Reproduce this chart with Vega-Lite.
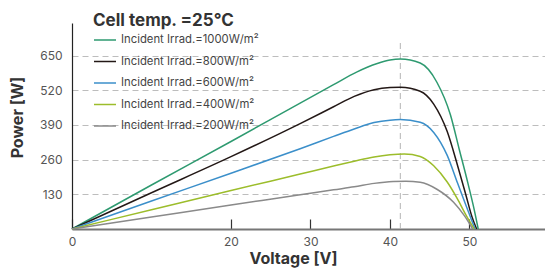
{
  "$schema": "https://vega.github.io/schema/vega-lite/v6.json",
  "width": 473,
  "height": 206,
  "autosize": {"type": "none"},
  "padding": {"left": 72, "top": 23, "right": 0, "bottom": 41},
  "background": "white",
  "config": {
    "view": {"stroke": null},
    "font": "Inter",
    "axis": {"labelFont": "Inter", "titleFont": "Inter"}
  },
  "layer": [
    {
      "data": {"values": [{"v": 41.3, "p0": 0, "p1": 699}]},
      "mark": {"type": "rule", "color": "#b5b5b5", "strokeDash": [6, 4], "strokeWidth": 1},
      "encoding": {
        "x": {"field": "v", "type": "quantitative", "scale": {"domain": [0, 59.5]}},
        "y": {"field": "p0", "type": "quantitative", "scale": {"domain": [0, 772]}},
        "y2": {"field": "p1"}
      }
    },
    {
      "data": {"values": [
        {"series": "Incident Irrad.=1000W/m²", "v": 0, "p": 0},
        {"series": "Incident Irrad.=1000W/m²", "v": 10, "p": 165},
        {"series": "Incident Irrad.=1000W/m²", "v": 20, "p": 328},
        {"series": "Incident Irrad.=1000W/m²", "v": 28.7, "p": 472},
        {"series": "Incident Irrad.=1000W/m²", "v": 32.9, "p": 541},
        {"series": "Incident Irrad.=1000W/m²", "v": 35.8, "p": 588},
        {"series": "Incident Irrad.=1000W/m²", "v": 38.4, "p": 620},
        {"series": "Incident Irrad.=1000W/m²", "v": 40.0, "p": 633},
        {"series": "Incident Irrad.=1000W/m²", "v": 41.3, "p": 637},
        {"series": "Incident Irrad.=1000W/m²", "v": 43.8, "p": 622},
        {"series": "Incident Irrad.=1000W/m²", "v": 45.9, "p": 550},
        {"series": "Incident Irrad.=1000W/m²", "v": 47.6, "p": 428},
        {"series": "Incident Irrad.=1000W/m²", "v": 48.7, "p": 300},
        {"series": "Incident Irrad.=1000W/m²", "v": 49.8, "p": 172},
        {"series": "Incident Irrad.=1000W/m²", "v": 50.6, "p": 72},
        {"series": "Incident Irrad.=1000W/m²", "v": 51.1, "p": 0},
        {"series": "Incident Irrad.=800W/m²", "v": 0, "p": 0},
        {"series": "Incident Irrad.=800W/m²", "v": 10, "p": 136},
        {"series": "Incident Irrad.=800W/m²", "v": 20, "p": 271},
        {"series": "Incident Irrad.=800W/m²", "v": 28.7, "p": 395},
        {"series": "Incident Irrad.=800W/m²", "v": 32.9, "p": 458},
        {"series": "Incident Irrad.=800W/m²", "v": 35.5, "p": 497},
        {"series": "Incident Irrad.=800W/m²", "v": 38.0, "p": 522},
        {"series": "Incident Irrad.=800W/m²", "v": 40.0, "p": 530},
        {"series": "Incident Irrad.=800W/m²", "v": 41.3, "p": 531},
        {"series": "Incident Irrad.=800W/m²", "v": 43.8, "p": 516},
        {"series": "Incident Irrad.=800W/m²", "v": 45.5, "p": 468},
        {"series": "Incident Irrad.=800W/m²", "v": 47.2, "p": 365},
        {"series": "Incident Irrad.=800W/m²", "v": 48.5, "p": 238},
        {"series": "Incident Irrad.=800W/m²", "v": 49.6, "p": 122},
        {"series": "Incident Irrad.=800W/m²", "v": 50.3, "p": 47},
        {"series": "Incident Irrad.=800W/m²", "v": 50.9, "p": 0},
        {"series": "Incident Irrad.=600W/m²", "v": 0, "p": 0},
        {"series": "Incident Irrad.=600W/m²", "v": 10, "p": 105},
        {"series": "Incident Irrad.=600W/m²", "v": 20, "p": 209},
        {"series": "Incident Irrad.=600W/m²", "v": 28.7, "p": 301},
        {"series": "Incident Irrad.=600W/m²", "v": 32.9, "p": 347},
        {"series": "Incident Irrad.=600W/m²", "v": 35.5, "p": 375},
        {"series": "Incident Irrad.=600W/m²", "v": 38.0, "p": 399},
        {"series": "Incident Irrad.=600W/m²", "v": 40.0, "p": 408},
        {"series": "Incident Irrad.=600W/m²", "v": 41.3, "p": 410},
        {"series": "Incident Irrad.=600W/m²", "v": 43.8, "p": 400},
        {"series": "Incident Irrad.=600W/m²", "v": 45.5, "p": 362},
        {"series": "Incident Irrad.=600W/m²", "v": 47.2, "p": 276},
        {"series": "Incident Irrad.=600W/m²", "v": 48.5, "p": 172},
        {"series": "Incident Irrad.=600W/m²", "v": 49.6, "p": 85},
        {"series": "Incident Irrad.=600W/m²", "v": 50.7, "p": 0},
        {"series": "Incident Irrad.=400W/m²", "v": 0, "p": 0},
        {"series": "Incident Irrad.=400W/m²", "v": 10, "p": 72},
        {"series": "Incident Irrad.=400W/m²", "v": 20, "p": 144},
        {"series": "Incident Irrad.=400W/m²", "v": 28.7, "p": 206},
        {"series": "Incident Irrad.=400W/m²", "v": 32.9, "p": 236},
        {"series": "Incident Irrad.=400W/m²", "v": 35.5, "p": 254},
        {"series": "Incident Irrad.=400W/m²", "v": 38.0, "p": 270},
        {"series": "Incident Irrad.=400W/m²", "v": 40.0, "p": 278},
        {"series": "Incident Irrad.=400W/m²", "v": 41.8, "p": 281},
        {"series": "Incident Irrad.=400W/m²", "v": 43.8, "p": 272},
        {"series": "Incident Irrad.=400W/m²", "v": 45.5, "p": 237},
        {"series": "Incident Irrad.=400W/m²", "v": 47.2, "p": 176},
        {"series": "Incident Irrad.=400W/m²", "v": 48.5, "p": 112},
        {"series": "Incident Irrad.=400W/m²", "v": 49.6, "p": 50},
        {"series": "Incident Irrad.=400W/m²", "v": 50.6, "p": 0},
        {"series": "Incident Irrad.=200W/m²", "v": 0, "p": 0},
        {"series": "Incident Irrad.=200W/m²", "v": 10, "p": 45},
        {"series": "Incident Irrad.=200W/m²", "v": 20, "p": 90},
        {"series": "Incident Irrad.=200W/m²", "v": 28.7, "p": 128},
        {"series": "Incident Irrad.=200W/m²", "v": 32.9, "p": 147},
        {"series": "Incident Irrad.=200W/m²", "v": 35.5, "p": 158},
        {"series": "Incident Irrad.=200W/m²", "v": 38.0, "p": 171},
        {"series": "Incident Irrad.=200W/m²", "v": 40.4, "p": 178},
        {"series": "Incident Irrad.=200W/m²", "v": 42.0, "p": 179},
        {"series": "Incident Irrad.=200W/m²", "v": 43.8, "p": 175},
        {"series": "Incident Irrad.=200W/m²", "v": 45.9, "p": 149},
        {"series": "Incident Irrad.=200W/m²", "v": 48.0, "p": 100},
        {"series": "Incident Irrad.=200W/m²", "v": 49.4, "p": 48},
        {"series": "Incident Irrad.=200W/m²", "v": 50.4, "p": 0}
      ]},
      "mark": {"type": "line", "interpolate": "monotone", "strokeWidth": 1.5},
      "encoding": {
        "x": {
          "field": "v", "type": "quantitative",
          "scale": {"domain": [0, 59.5], "nice": false},
          "axis": {
            "values": [0, 20, 30, 40, 50],
            "title": "Voltage [V]",
            "titleFontSize": 16, "titleFontWeight": "bold", "titleColor": "#333",
            "titleX": 221, "titleY": 21, "titleAnchor": "middle",
            "labelFontSize": 12, "labelColor": "#555", "labelPadding": 17, "labelFlush": false,
            "domainColor": "#777", "domainWidth": 2,
            "tickColor": "#333", "tickSize": -10, "tickWidth": 1.2,
            "grid": false
          }
        },
        "y": {
          "field": "p", "type": "quantitative",
          "scale": {"domain": [0, 772], "nice": false},
          "axis": {
            "values": [130, 260, 390, 520, 650],
            "title": "Power [W]",
            "titleFontSize": 16, "titleFontWeight": "bold", "titleColor": "#333",
            "titleX": -47, "titleY": 94, "titleAnchor": "middle",
            "labelFontSize": 12, "labelColor": "#555", "labelPadding": 10,
            "domainColor": "#222", "domainWidth": 1.2,
            "ticks": false,
            "grid": true, "gridColor": "#bdbdbd", "gridDash": [6, 4], "gridWidth": 1
          }
        },
        "color": {
          "field": "series", "type": "nominal",
          "scale": {
            "domain": ["Incident Irrad.=1000W/m²", "Incident Irrad.=800W/m²", "Incident Irrad.=600W/m²", "Incident Irrad.=400W/m²", "Incident Irrad.=200W/m²"],
            "range": ["#2e9a70", "#231816", "#3b8fca", "#9cbd2b", "#8a8a8a"]
          },
          "legend": {
            "orient": "none", "legendX": 21, "legendY": -10,
            "title": "Cell temp. =25℃",
            "titleFontSize": 17, "titleFontWeight": "bold", "titleColor": "#333",
            "titlePadding": -2,
            "labelFontSize": 11.3, "labelColor": "#444", "labelOffset": 4,
            "symbolType": "stroke", "symbolSize": 484, "symbolStrokeWidth": 1.5,
            "rowPadding": 3.5, "padding": 0
          }
        }
      }
    }
  ]
}
